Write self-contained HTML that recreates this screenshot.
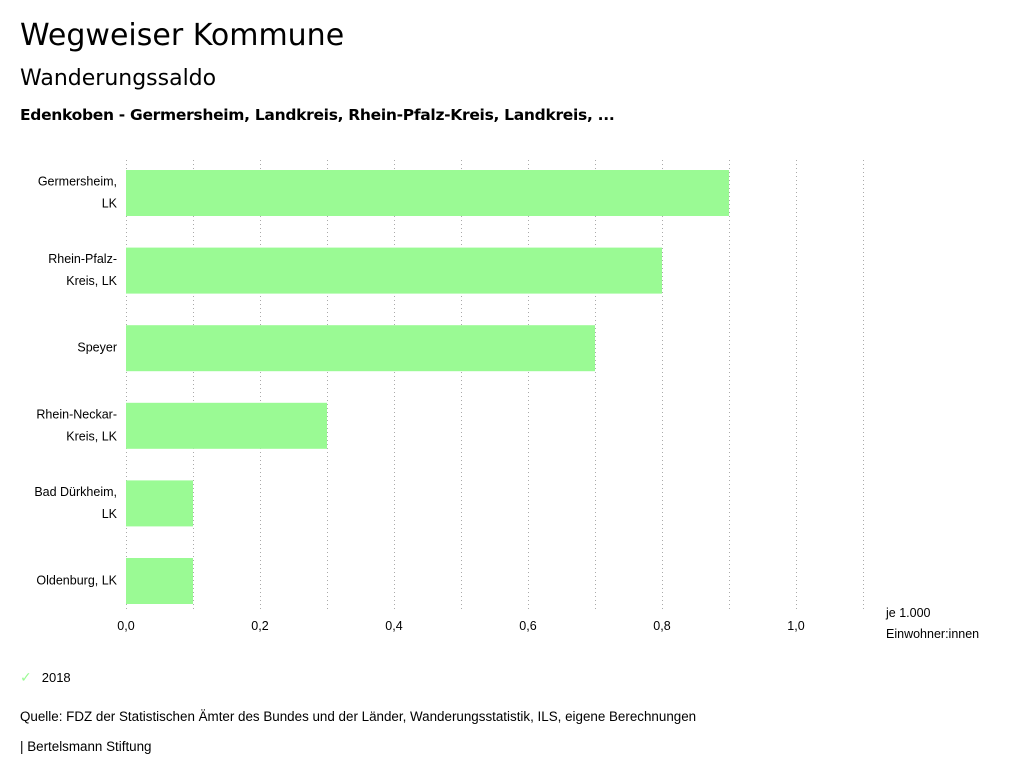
<!DOCTYPE html>
<html><head><meta charset="utf-8"><style>
body{margin:0;background:#fff;width:1024px;height:780px;overflow:hidden;font-family:"Liberation Sans","DejaVu Sans",sans-serif;color:#000}
.t{position:absolute;white-space:nowrap}
</style></head><body>
<div class="t" style="left:20px;top:18px;font-size:30px;font-family:'DejaVu Sans',sans-serif">Wegweiser Kommune</div>
<div class="t" style="left:20px;top:66px;font-size:22px;font-family:'DejaVu Sans',sans-serif">Wanderungssaldo</div>
<div class="t" style="left:20px;top:106px;font-size:15.5px;font-weight:bold;font-family:'DejaVu Sans',sans-serif;letter-spacing:-0.3px">Edenkoben - Germersheim, Landkreis, Rhein-Pfalz-Kreis, Landkreis, ...</div>
<svg id="chart" width="1024" height="660" style="position:absolute;left:0;top:0" font-family="Liberation Sans, sans-serif" font-size="12.5"></svg>
<div class="t" style="left:20px;top:669px;font-size:13px"><span style="color:#9afa94;font-size:14px">✓</span><span style="margin-left:10px">2018</span></div>
<div class="t" style="left:20px;top:709px;font-size:13.4px">Quelle: FDZ der Statistischen Ämter des Bundes und der Länder, Wanderungsstatistik, ILS, eigene Berechnungen</div>
<div class="t" style="left:20px;top:739px;font-size:13.4px">| Bertelsmann Stiftung</div>
<script>
const categories=[["Germersheim,","LK"],["Rhein-Pfalz-","Kreis, LK"],["Speyer"],["Rhein-Neckar-","Kreis, LK"],["Bad Dürkheim,","LK"],["Oldenburg, LK"]];
const values=[0.9,0.8,0.7,0.3,0.1,0.1];
const ticks=[0,0.2,0.4,0.6,0.8,1.0];
const grid=[0,0.1,0.2,0.3,0.4,0.5,0.6,0.7,0.8,0.9,1.0,1.1];
const NS="http://www.w3.org/2000/svg",svg=document.getElementById('chart');
const x=v=>126+v*670;
const top0=160,band=77.6,bh=45;
const y=i=>top0+i*band+10;
function mk(t,a){const e=document.createElementNS(NS,t);for(const k in a)e.setAttribute(k,a[k]);svg.appendChild(e);return e;}
grid.forEach(g=>{const l=mk('line',{x1:x(g)+0.5,x2:x(g)+0.5,y1:160,y2:612,stroke:'#aaa','stroke-width':1,'stroke-dasharray':'1,3'});

});
values.forEach((v,i)=>{const r=mk('rect',{x:x(0),y:y(i),width:x(v)-x(0),height:bh+1,fill:'#9afa94'});


const lines=categories[i];const cy=y(i)+bh/2;
lines.forEach((s,j)=>{const t=mk('text',{x:117,y:cy+4+(j-(lines.length-1)/2)*22,'text-anchor':'end'});t.textContent=s;

});});
ticks.forEach(v=>{const t=mk('text',{x:x(v),y:630,'text-anchor':'middle'});t.textContent=v.toFixed(1).replace('.',',');

});
[["je 1.000",617],["Einwohner:innen",638]].forEach(([s,yy])=>{const t=mk('text',{x:886,y:yy});t.textContent=s;

});
</script>
</body></html>
